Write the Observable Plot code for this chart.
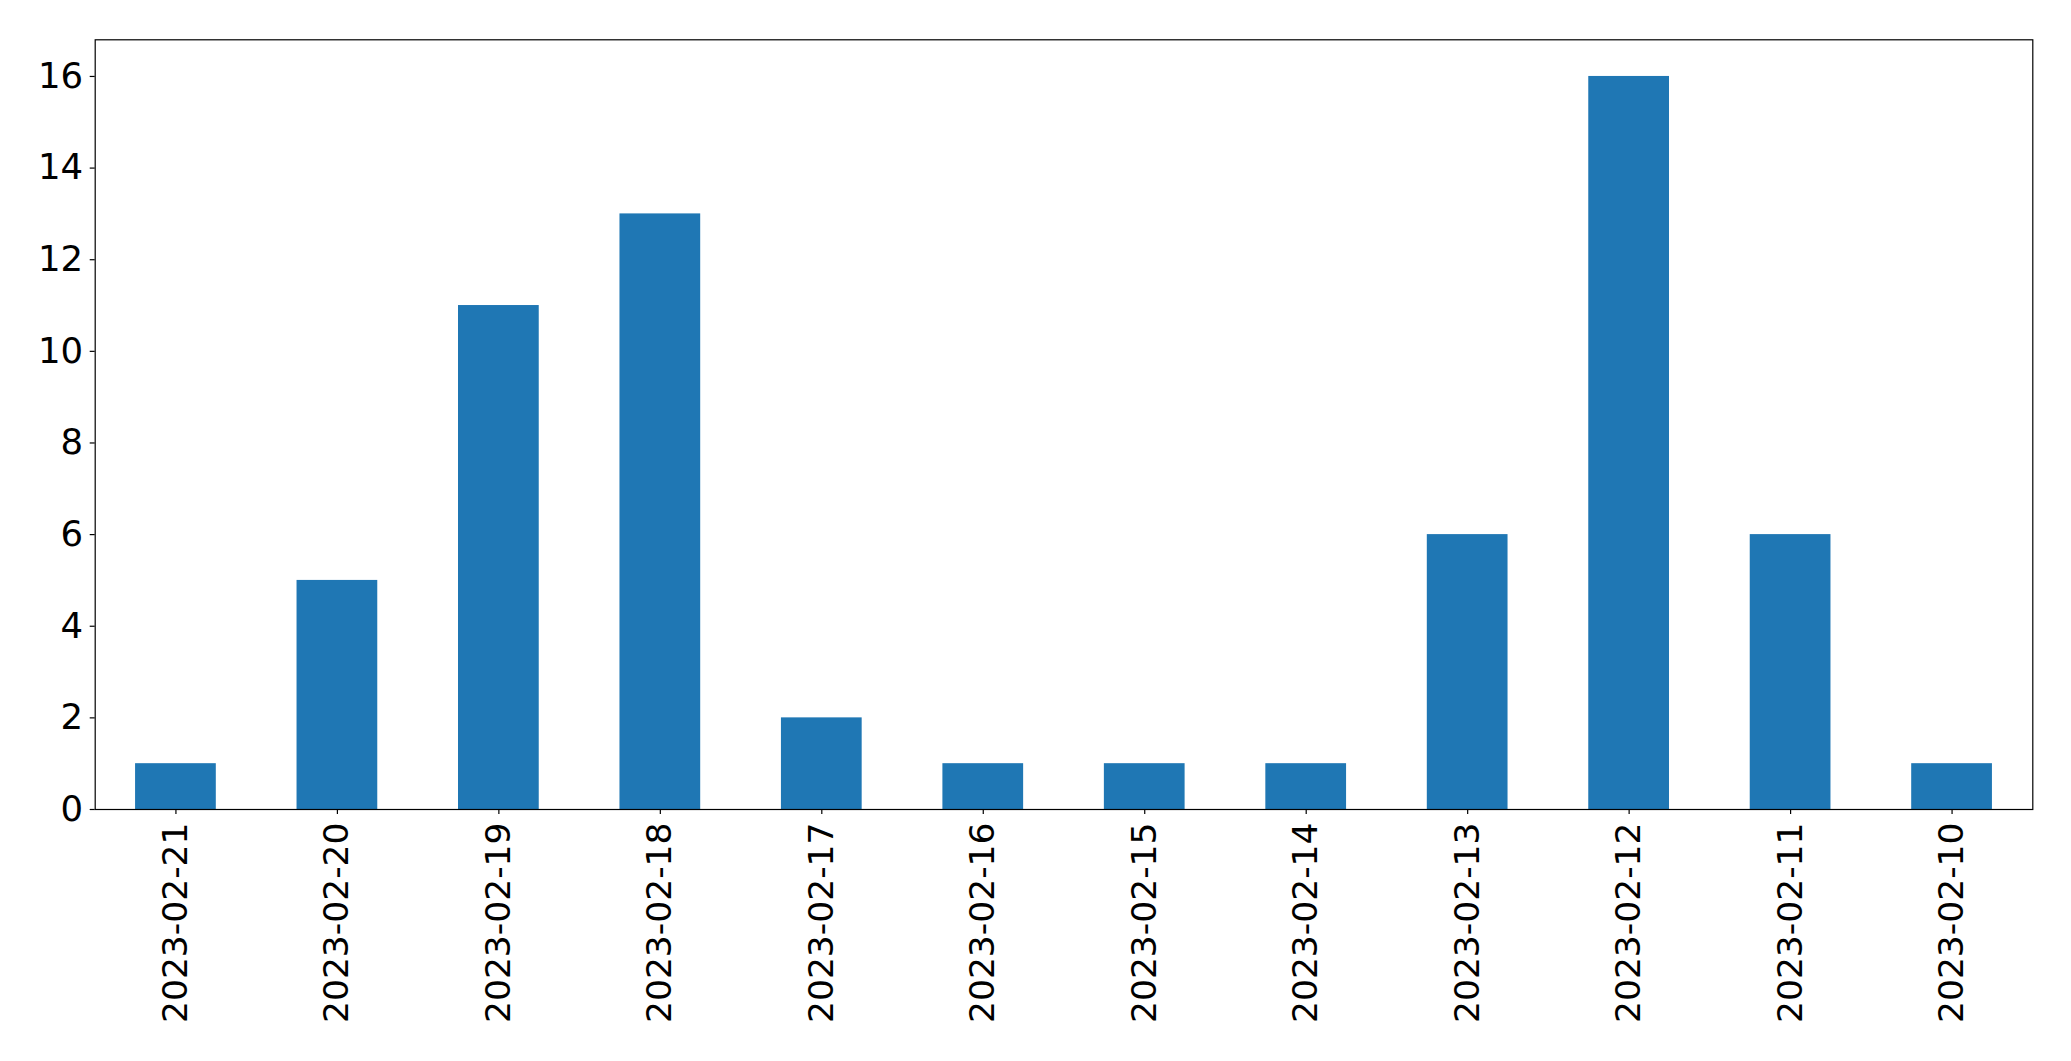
<!DOCTYPE html>
<html>
<head>
<meta charset="utf-8">
<script src="https://cdn.jsdelivr.net/npm/d3@7"></script>
<script src="https://cdn.jsdelivr.net/npm/@observablehq/plot@0.6"></script>
<style>
  html, body { margin: 0; padding: 0; background: #fff; }
  #chart svg { display: block; }
</style>
</head>
<body>
<div id="chart"></div>
<script>
const dates = ["2023-02-21","2023-02-20","2023-02-19","2023-02-18","2023-02-17","2023-02-16","2023-02-15","2023-02-14","2023-02-13","2023-02-12","2023-02-11","2023-02-10"];
const counts = [1, 5, 11, 13, 2, 1, 1, 1, 6, 16, 6, 1];
const yTicks = [0, 2, 4, 6, 8, 10, 12, 14, 16];

const data = dates.map((d, i) => ({date: d, count: counts[i]}));

const chart = Plot.plot({
  width: 2071,
  height: 1061,
  marginLeft: 94.7,
  marginRight: 38.7,
  marginTop: 39.3,
  marginBottom: 252,
  style: {fontFamily: "DejaVu Sans", fontSize: "35px", color: "#000", background: "#fff"},
  x: {domain: dates, paddingInner: 0.5, paddingOuter: 0.25, round: false, label: null},
  y: {domain: [0, 16.8], label: null},
  marks: [
    Plot.barY(data, {x: "date", y: "count", fill: "#1f77b4"}),
    Plot.axisY({ticks: yTicks, tickSize: 5, tickPadding: 7, label: null, fontSize: 35.5, stroke: "#000", strokeWidth: 1.2}),
    Plot.axisX({tickRotate: -90, tickSize: 5, tickPadding: 8, label: null, fontSize: 34.5, stroke: "#000", strokeWidth: 1.2}),
    Plot.frame({stroke: "#000", strokeWidth: 1.2})
  ]
});
document.getElementById("chart").appendChild(chart);
</script>
</body>
</html>
